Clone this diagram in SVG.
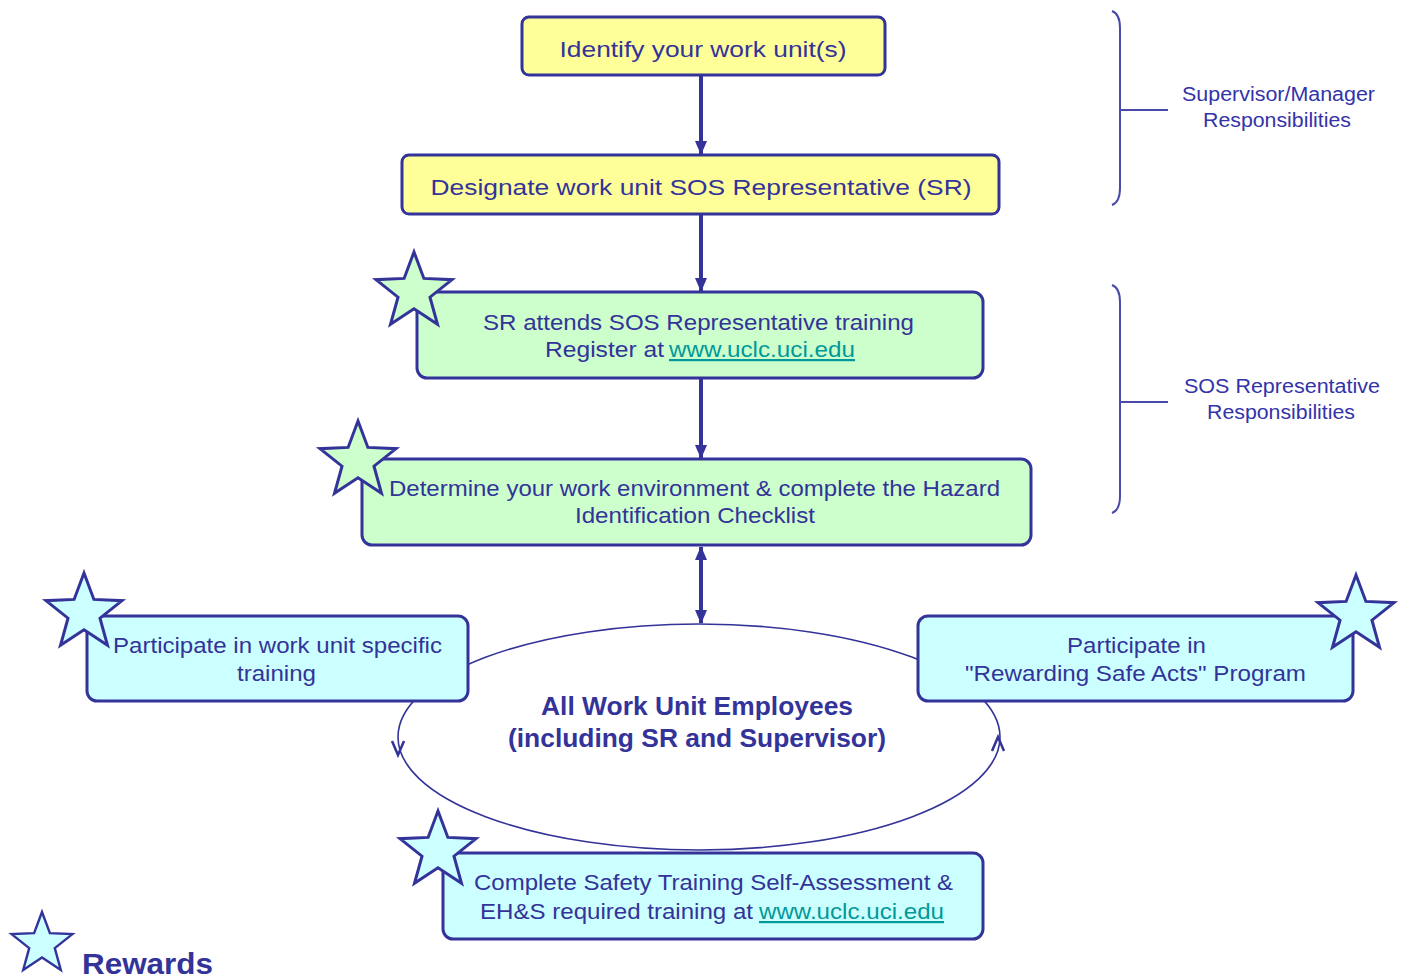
<svg xmlns="http://www.w3.org/2000/svg" width="1402" height="978" viewBox="0 0 1402 978">
<style>
.box{stroke:#333399;stroke-width:3}
.y{fill:#FFFF99}
.g{fill:#CCFFCC}
.c{fill:#CCFFFF}
.t{font-family:"Liberation Sans",Arial,sans-serif;font-size:22px;fill:#333399}
.lnk{fill:#009999;text-decoration:underline}
.b{font-weight:bold;font-size:25px}
.side{font-size:20px;fill:#3333AA}
.star{stroke:#333399;stroke-width:3;stroke-linejoin:miter}
.arr{stroke:#333399;stroke-width:4;fill:none}
.thin{stroke:#333399;stroke-width:1.6;fill:none}
.brk{stroke:#4A4AAA;stroke-width:2;fill:none}
</style>
<defs>
<marker id="ah" viewBox="0 0 14 12" refX="13" refY="6" markerWidth="14" markerHeight="12" markerUnits="userSpaceOnUse" orient="auto-start-reverse">
<path d="M0,0 L14,6 L0,12 z" fill="#333399"/>
</marker>
<polygon id="star" points="0,-40 9.88,-13.59 38.04,-12.36 15.98,5.19 23.51,32.36 0,16.8 -23.51,32.36 -15.98,5.19 -38.04,-12.36 -9.88,-13.59"/>
</defs>
<rect width="1402" height="978" fill="#FFFFFF"/>

<g id="cycle">
<ellipse class="thin" cx="699" cy="737" rx="301" ry="113"/>
<polyline class="thin" style="stroke-width:2.5" points="392,741 398,755 404,741"/>
<polyline class="thin" style="stroke-width:2.5" points="992,751 998,737 1004,751"/>
</g>

<g id="connectors">
<line class="arr" x1="701" y1="76" x2="701" y2="154" marker-end="url(#ah)"/>
<line class="arr" x1="701" y1="215" x2="701" y2="291" marker-end="url(#ah)"/>
<line class="arr" x1="701" y1="379" x2="701" y2="458" marker-end="url(#ah)"/>
<line class="arr" x1="701" y1="547" x2="701" y2="623" marker-start="url(#ah)" marker-end="url(#ah)"/>
</g>

<g id="n1">
<rect class="box y" x="522" y="17" width="363" height="58" rx="7"/>
<text class="t" x="703" y="57" text-anchor="middle" textLength="287" lengthAdjust="spacingAndGlyphs">Identify your work unit(s)</text>
</g>

<g id="n2">
<rect class="box y" x="402" y="155" width="597" height="59" rx="7"/>
<text class="t" x="701" y="195" text-anchor="middle" textLength="541" lengthAdjust="spacingAndGlyphs">Designate work unit SOS Representative (SR)</text>
</g>

<g id="n3">
<rect class="box g" x="417" y="292" width="566" height="86" rx="10"/>
<use href="#star" class="star g" x="414" y="292"/>
<text class="t" x="483" y="330" textLength="431" lengthAdjust="spacingAndGlyphs">SR attends SOS Representative training</text>
<text class="t" x="545" y="357" textLength="119" lengthAdjust="spacingAndGlyphs">Register at</text>
<text class="t lnk" x="669" y="357" textLength="186" lengthAdjust="spacingAndGlyphs">www.uclc.uci.edu</text>
</g>

<g id="n4">
<rect class="box g" x="362" y="459" width="669" height="86" rx="10"/>
<use href="#star" class="star g" x="358" y="461"/>
<text class="t" x="389" y="496" textLength="611" lengthAdjust="spacingAndGlyphs">Determine your work environment &amp; complete the Hazard</text>
<text class="t" x="575" y="523" textLength="240" lengthAdjust="spacingAndGlyphs">Identification Checklist</text>
</g>

<g id="n5">
<rect class="box c" x="87" y="616" width="381" height="85" rx="10"/>
<use href="#star" class="star c" x="84" y="613"/>
<text class="t" x="113" y="653" textLength="329" lengthAdjust="spacingAndGlyphs">Participate in work unit specific</text>
<text class="t" x="237" y="681" textLength="79" lengthAdjust="spacingAndGlyphs">training</text>
</g>

<g id="n6">
<rect class="box c" x="918" y="616" width="435" height="85" rx="10"/>
<use href="#star" class="star c" x="1356" y="615"/>
<text class="t" x="1067" y="653" textLength="139" lengthAdjust="spacingAndGlyphs">Participate in</text>
<text class="t" x="965" y="681" textLength="341" lengthAdjust="spacingAndGlyphs">"Rewarding Safe Acts" Program</text>
</g>

<g id="n7">
<text class="t b" x="541" y="715" textLength="312" lengthAdjust="spacingAndGlyphs">All Work Unit Employees</text>
<text class="t b" x="508" y="747" textLength="378" lengthAdjust="spacingAndGlyphs">(including SR and Supervisor)</text>
</g>

<g id="n8">
<rect class="box c" x="443" y="853" width="540" height="86" rx="10"/>
<use href="#star" class="star c" x="438" y="851"/>
<text class="t" x="474" y="890" textLength="479" lengthAdjust="spacingAndGlyphs">Complete Safety Training Self-Assessment &amp;</text>
<text class="t" x="480" y="919" textLength="273" lengthAdjust="spacingAndGlyphs">EH&amp;S required training at</text>
<text class="t lnk" x="759" y="919" textLength="185" lengthAdjust="spacingAndGlyphs">www.uclc.uci.edu</text>
</g>

<g id="legend">
<use href="#star" class="star c" transform="translate(42,944) scale(0.8)"/>
<text class="t b" style="font-size:30px" x="82" y="974" textLength="131" lengthAdjust="spacingAndGlyphs">Rewards</text>
</g>

<g id="bracket1">
<path class="brk" d="M1112,11 Q1120,14 1120,28 L1120,188 Q1120,202 1112,205"/>
<line class="brk" x1="1120" y1="110" x2="1168" y2="110"/>
<text class="t side" x="1182" y="101" textLength="193" lengthAdjust="spacingAndGlyphs">Supervisor/Manager</text>
<text class="t side" x="1203" y="127" textLength="148" lengthAdjust="spacingAndGlyphs">Responsibilities</text>
</g>

<g id="bracket2">
<path class="brk" d="M1112,285 Q1120,288 1120,302 L1120,496 Q1120,510 1112,513"/>
<line class="brk" x1="1120" y1="402" x2="1168" y2="402"/>
<text class="t side" x="1184" y="393" textLength="196" lengthAdjust="spacingAndGlyphs">SOS Representative</text>
<text class="t side" x="1207" y="419" textLength="148" lengthAdjust="spacingAndGlyphs">Responsibilities</text>
</g>
</svg>
